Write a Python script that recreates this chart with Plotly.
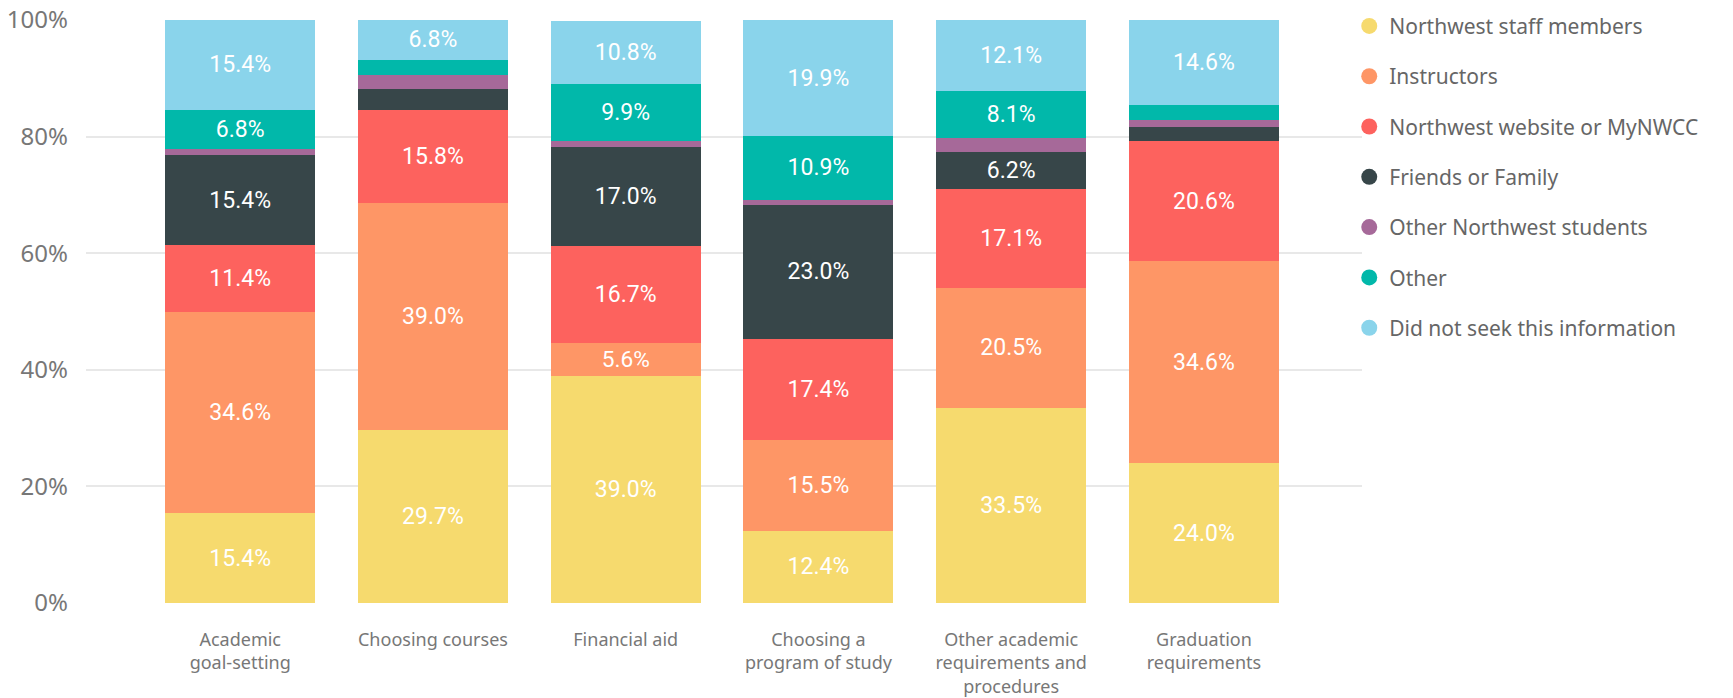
import plotly.graph_objects as go

categories = ["Academic goal-setting", "Choosing courses", "Financial aid",
              "Choosing a program of study", "Other academic requirements and procedures",
              "Graduation requirements"]
tick_labels = ["Academic<br>goal-setting", "Choosing courses", "Financial aid",
               "Choosing a<br>program of study", "Other academic<br>requirements and<br>procedures",
               "Graduation<br>requirements"]
y_ticks = [0, 20, 40, 60, 80, 100]
y_tick_labels = ["0%", "20%", "40%", "60%", "80%", "100%"]

series_names = ["Northwest staff members", "Instructors", "Northwest website or MyNWCC",
                "Friends or Family", "Other Northwest students", "Other",
                "Did not seek this information"]

staff = [15.4, 29.7, 39.0, 12.4, 33.5, 24.0]
instructors = [34.6, 39.0, 5.6, 15.5, 20.5, 34.6]
website = [11.4, 15.8, 16.7, 17.4, 17.1, 20.6]
friends = [15.4, 3.7, 17.0, 23.0, 6.2, 2.4]
students = [1.0, 2.4, 0.9, 0.9, 2.5, 1.3]
other = [6.8, 2.6, 9.9, 10.9, 8.1, 2.5]
did_not_seek = [15.4, 6.8, 10.8, 19.9, 12.1, 14.6]

series_values = [staff, instructors, website, friends, students, other, did_not_seek]
colors = ["#F6DA6E", "#FE9666", "#FD625E", "#374649", "#A66999", "#01B8AA", "#8AD4EB"]

label_font = "Roboto, sans-serif"
ui_font = "Noto Sans, Open Sans, sans-serif"

fig = go.Figure()
for name, vals, col in zip(series_names, series_values, colors):
    fig.add_trace(go.Bar(
        x=list(range(len(categories))), y=vals, name=name,
        marker=dict(color=col, line=dict(width=0)),
        text=[f"{v:.1f}%" if v >= 5 else "" for v in vals],
        textposition="inside", insidetextanchor="middle", textangle=0,
        insidetextfont=dict(color="white", size=23, family=label_font),
        showlegend=False, legendgroup=name,
        hovertext=categories,
    ))
for name, col in zip(series_names, colors):
    fig.add_trace(go.Scatter(
        x=[None], y=[None], mode="markers", name=name, legendgroup=name,
        marker=dict(symbol="circle", size=22, color=col), showlegend=True,
    ))

fig.update_layout(
    barmode="stack",
    bargap=0.222,
    width=1733, height=698,
    margin=dict(l=86, r=371, t=20, b=95, autoexpand=False),
    plot_bgcolor="white", paper_bgcolor="white",
    legend=dict(
        x=0.990, xanchor="left", y=1.0244, yanchor="top",
        traceorder="grouped", itemsizing="trace",
        font=dict(family=ui_font, size=21, color="#666666"),
        tracegroupgap=20, bgcolor="rgba(0,0,0,0)",
    ),
    xaxis=dict(
        tickmode="array", tickvals=list(range(len(categories))), ticktext=tick_labels,
        range=[-0.8, 5.82], showgrid=False, zeroline=False, showline=False,
        tickfont=dict(family=ui_font, size=18, color="#777777"),
        ticks="", ticklabelstandoff=24, automargin=False,
    ),
    yaxis=dict(
        range=[0, 100.01], tickmode="array", tickvals=y_ticks, ticktext=y_tick_labels,
        showgrid=True, gridcolor="#E8E8E8", gridwidth=2, zeroline=False, showline=False,
        tickfont=dict(family=ui_font, size=24, color="#777777"),
        ticks="", ticklabelstandoff=17, automargin=False, ticklabeloverflow="allow",
        layer="below traces",
    ),
)

fig.write_html("out.html", config={"displayModeBar": False},
               post_script="document.body.style.margin='0';")
